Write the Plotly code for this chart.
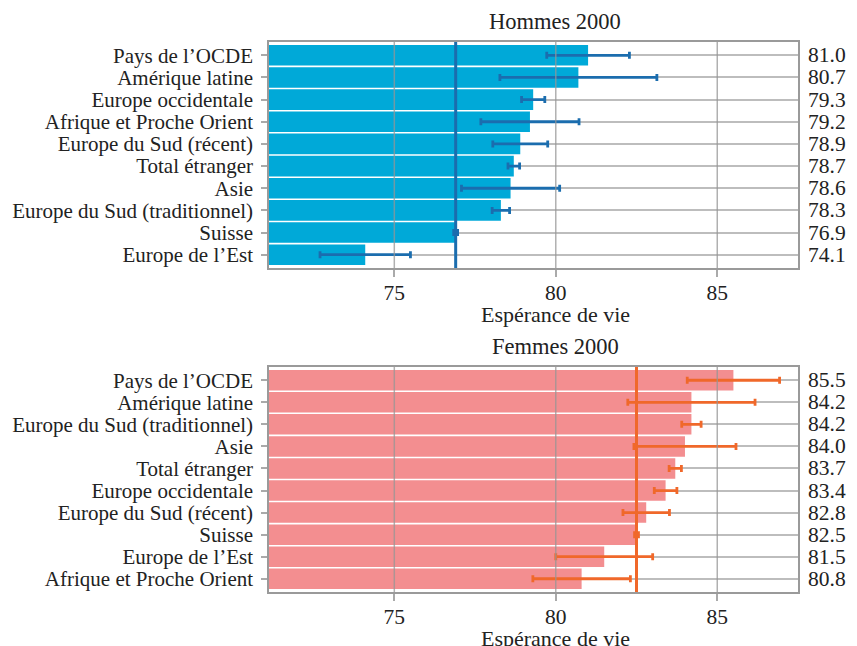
import plotly.graph_objects as go

# Life expectancy by origin group, 2000 (men / women), with confidence half-widths
categories_h = ["Pays de l’OCDE", "Amérique latine", "Europe occidentale",
                "Afrique et Proche Orient", "Europe du Sud (récent)", "Total étranger",
                "Asie", "Europe du Sud (traditionnel)", "Suisse", "Europe de l’Est"]
values_h = [81.0, 80.7, 79.3, 79.2, 78.9, 78.7, 78.6, 78.3, 76.9, 74.1]
ci_h = [1.28, 2.43, 0.36, 1.52, 0.85, 0.18, 1.52, 0.27, 0.06, 1.40]

categories_f = ["Pays de l’OCDE", "Amérique latine", "Europe du Sud (traditionnel)",
                "Asie", "Total étranger", "Europe occidentale", "Europe du Sud (récent)",
                "Suisse", "Europe de l’Est", "Afrique et Proche Orient"]
values_f = [85.5, 84.2, 84.2, 84.0, 83.7, 83.4, 82.8, 82.5, 81.5, 80.8]
ci_f = [1.43, 1.97, 0.30, 1.58, 0.19, 0.35, 0.72, 0.06, 1.50, 1.51]

x_ticks = [75, 80, 85]
x_range = [71.12, 87.5]
x_title = "Espérance de vie"

FONT = "Liberation Serif, Times New Roman, serif"
TXT = "#222222"
W, H = 857, 646
M_L, M_R = 269, 59
CENTER_X = (555 - M_L) / (W - M_L - M_R)

panels = [
    dict(title="Hommes 2000", cats=categories_h, vals=values_h, ci=ci_h,
         bar="#00A9D8", err="#1B6DAE", top=42, bottom=268),
    dict(title="Femmes 2000", cats=categories_f, vals=values_f, ci=ci_f,
         bar="#F38E90", err="#F0682A", top=367, bottom=592),
]

fig = go.Figure()
shapes = []
annotations = []

for i, p in enumerate(panels):
    sfx = "" if i == 0 else str(i + 1)
    xa, ya = "x" + sfx, "y" + sfx
    fig.add_trace(go.Bar(
        x=p["vals"], y=p["cats"], orientation="h",
        marker=dict(color=p["bar"], line=dict(width=0)),
        error_x=dict(type="data", array=p["ci"], color=p["err"],
                     thickness=2.8, width=3.5),
        xaxis=xa, yaxis=ya, showlegend=False, hoverinfo="x+y",
    ))
    dom = [1 - p["bottom"] / H, 1 - p["top"] / H]
    fig.update_layout(**{
        "xaxis" + sfx: dict(
            domain=[0, 1], anchor=ya, range=x_range,
            tickmode="array", tickvals=x_ticks,
            showgrid=False, zeroline=False, ticks="outside", ticklen=7,
            tickwidth=1.5, tickcolor="#aaaaaa", showline=True, mirror=True,
            linecolor="#9a9a9a", linewidth=1.5, ticklabelstandoff=-3,
            tickfont=dict(family=FONT, size=21.5, color=TXT),
            automargin=False,
        ),
        "yaxis" + sfx: dict(
            domain=dom, anchor=xa, categoryorder="array", categoryarray=p["cats"],
            tickmode="array", tickvals=p["cats"], ticktext=p["cats"],
            range=[len(p["cats"]) - 0.4, -0.6], showgrid=True,
            gridcolor="#bdbdbd", gridwidth=1.5, zeroline=False,
            ticks="outside", ticklen=6, tickwidth=1.5, tickcolor="#aaaaaa",
            showline=True, mirror=True, linecolor="#9a9a9a", linewidth=1.5,
            ticklabelstandoff=4,
            tickfont=dict(family=FONT, size=21, color=TXT),
            automargin=False,
        ),
    })
    # vertical grid drawn over the bars
    for t in x_ticks:
        shapes.append(dict(type="line", xref=xa, yref=ya + " domain", x0=t, x1=t,
                           y0=0, y1=1, layer="above",
                           line=dict(color="rgba(150,150,150,0.75)", width=1.5)))
    # reference line at the Swiss value
    ref = p["vals"][p["cats"].index("Suisse")]
    shapes.append(dict(type="line", xref=xa, yref=ya + " domain", x0=ref, x1=ref,
                       y0=0, y1=1, layer="above",
                       line=dict(color=p["err"], width=3)))
    # value labels to the right of the panel
    for c, v in zip(p["cats"], p["vals"]):
        annotations.append(dict(xref=xa + " domain", yref=ya, x=1, y=c,
                                xanchor="left", xshift=8, showarrow=False,
                                text=f"{v:.1f}",
                                font=dict(family=FONT, size=21.5, color=TXT)))
    # panel title and x-axis title
    annotations.append(dict(xref="paper", yref="paper", x=CENTER_X, xanchor="center",
                            y=1 - (p["top"] - 21) / H, yanchor="middle",
                            showarrow=False, text=p["title"],
                            font=dict(family=FONT, size=22.5, color=TXT)))
    annotations.append(dict(xref="paper", yref="paper", x=CENTER_X, xanchor="center",
                            y=1 - (p["bottom"] + 46) / H, yanchor="middle",
                            showarrow=False, text=x_title,
                            font=dict(family=FONT, size=22, color=TXT)))

fig.update_layout(
    width=W, height=H, margin=dict(l=M_L, r=M_R, t=0, b=0),
    paper_bgcolor="white", plot_bgcolor="white",
    bargap=0.07, shapes=shapes, annotations=annotations,
    font=dict(family=FONT),
)

fig.write_html("out.html")
